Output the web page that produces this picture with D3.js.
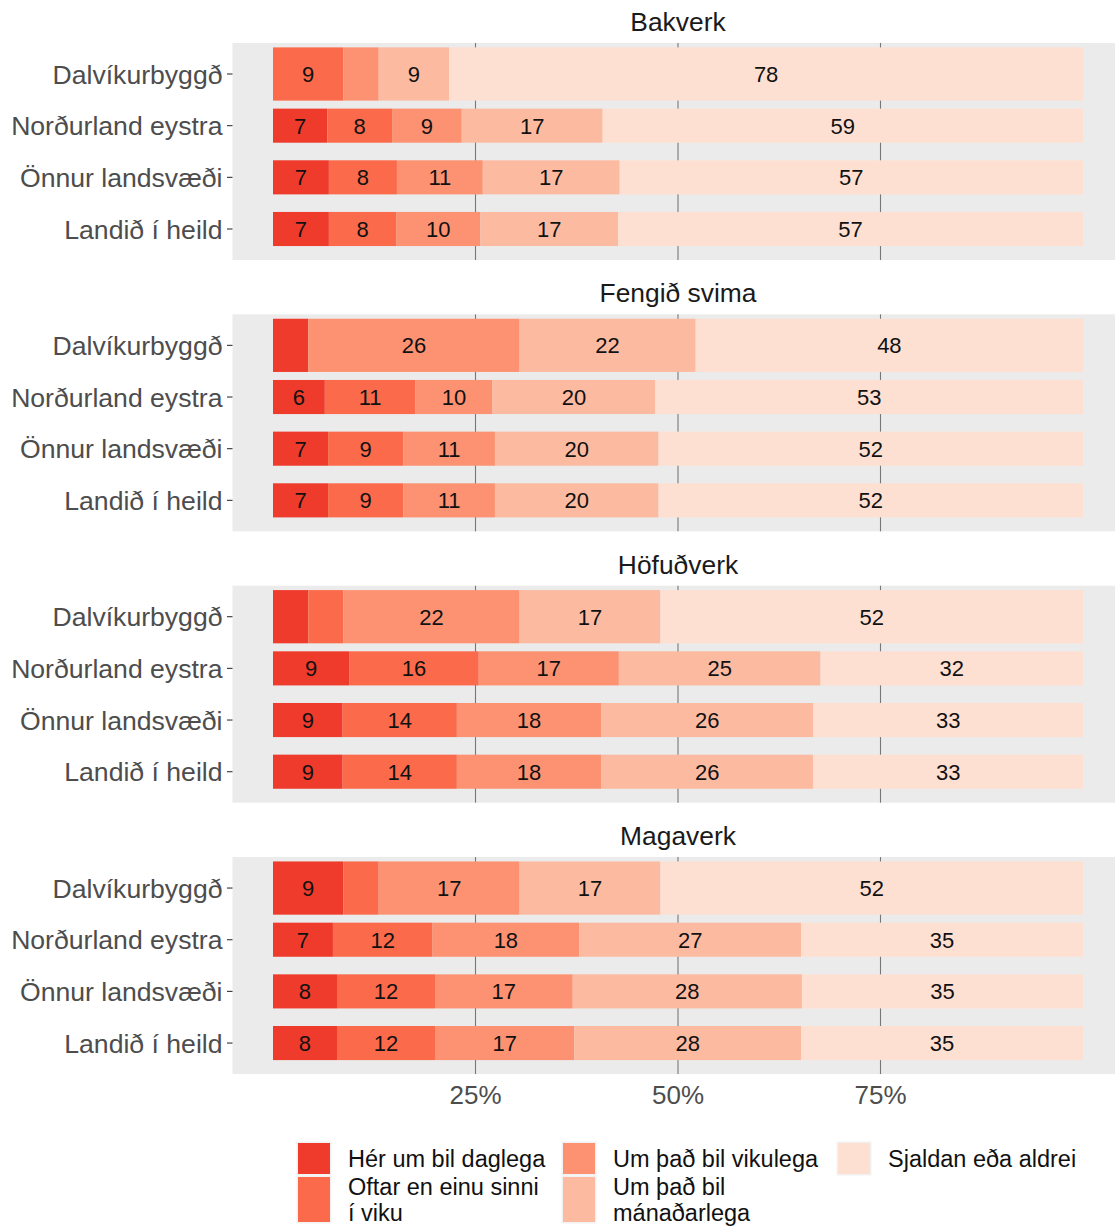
<!DOCTYPE html>
<html>
<head>
<meta charset="utf-8">
<script src="https://cdn.jsdelivr.net/npm/d3@7"></script>
<style>
  html, body { margin: 0; padding: 0; background: #fff; }
  svg { display: block; font-family: "Liberation Sans", Arial, sans-serif; }
</style>
</head>
<body>
<svg id="chart" width="1115" height="1228"></svg>
<script>
// ---------- data ----------
const panels = ["Bakverk", "Fengið svima", "Höfuðverk", "Magaverk"];
const categories = ["Dalvíkurbyggð", "Norðurland eystra", "Önnur landsvæði", "Landið í heild"];
const levels = ["Hér um bil daglega", "Oftar en einu sinni í viku", "Um það bil vikulega", "Um það bil mánaðarlega", "Sjaldan eða aldrei"];
const legendLabels = [["Hér um bil daglega"], ["Oftar en einu sinni", "í viku"], ["Um það bil vikulega"], ["Um það bil", "mánaðarlega"], ["Sjaldan eða aldrei"]];
const colors = ["#EF3B2C", "#FB6A4A", "#FC9272", "#FCBBA1", "#FEE0D2"];
const xTicks = [25, 50, 75];

// percentages per category, in order of levels
const bakverk = [
  [0, 8.7, 4.35, 8.7, 78.26],
  [6.7, 8.0, 8.6, 17.4, 59.3],
  [6.9, 8.4, 10.6, 16.9, 57.2],
  [6.9, 8.3, 10.4, 17.0, 57.4]
];
const fengidSvima = [
  [4.35, 0, 26.09, 21.74, 47.83],
  [6.4, 11.2, 9.5, 20.1, 52.8],
  [6.8, 9.3, 11.3, 20.2, 52.4],
  [6.8, 9.3, 11.3, 20.2, 52.4]
];
const hofudverk = [
  [4.35, 4.35, 21.74, 17.39, 52.17],
  [9.4, 16.0, 17.3, 24.9, 32.4],
  [8.6, 14.1, 17.8, 26.2, 33.3],
  [8.6, 14.1, 17.8, 26.2, 33.3]
];
const magaverk = [
  [8.7, 4.35, 17.39, 17.39, 52.17],
  [7.4, 12.3, 18.1, 27.4, 34.8],
  [7.9, 12.1, 17.0, 28.3, 34.7],
  [7.9, 12.1, 17.2, 28.0, 34.8]
];
const panelValues = [bakverk, fengidSvima, hofudverk, magaverk];

// ---------- layout ----------
const svg = d3.select("#chart");
const x = d3.scaleLinear().domain([0, 100]).range([273, 1083]);
const panelLeft = x(-5), panelRight = x(105);
const panelH = 217, panelPitch = 271.35, firstTop = 43;
const color = d3.scaleOrdinal().domain(levels).range(colors);
const labelThreshold = 5;

panels.forEach((p, pi) => {
  const top = firstTop + pi * panelPitch;
  const y = d3.scalePoint().domain(categories).range([top, top + panelH]).padding(0.6);
  const step = y.step();
  const g = svg.append("g");

  // panel background
  g.append("rect").attr("x", panelLeft).attr("y", top)
    .attr("width", panelRight - panelLeft).attr("height", panelH)
    .attr("fill", "#EBEBEB");

  // gridlines
  g.selectAll("line.grid").data(xTicks).join("line")
    .attr("x1", d => x(d)).attr("x2", d => x(d))
    .attr("y1", top).attr("y2", top + panelH)
    .attr("stroke", "#777").attr("stroke-width", 1.1);

  // strip title
  g.append("text").attr("x", x(50)).attr("y", top - 12)
    .attr("text-anchor", "middle").attr("font-size", 26.4)
    .attr("fill", "#1A1A1A").text(p);

  // y axis labels + ticks
  categories.forEach((c, ci) => {
    const cy = y(c);
    g.append("line").attr("x1", panelLeft - 5.5).attr("x2", panelLeft)
      .attr("y1", cy).attr("y2", cy).attr("stroke", "#333").attr("stroke-width", 1.1);
    g.append("text").attr("x", panelLeft - 10).attr("y", cy).attr("dy", "0.36em")
      .attr("text-anchor", "end").attr("font-size", 26.6).attr("fill", "#4D4D4D").text(c);
  });

  // bars
  panelValues[pi].forEach((vals, ci) => {
    const cy = y(categories[ci]);
    const h = (ci === 0 ? 1.03 : 0.66) * step;
    const stacked = d3.stack().keys(d3.range(levels.length))([vals])
      .map(s => ({ i: s.key, x0: s[0][0], x1: s[0][1], v: vals[s.key] }));
    g.selectAll(null).data(stacked.filter(d => d.v > 0)).join("rect")
      .attr("x", d => x(d.x0)).attr("width", d => x(d.x1) - x(d.x0))
      .attr("y", cy - h / 2).attr("height", h)
      .attr("fill", d => colors[d.i]);
    g.selectAll(null).data(stacked.filter(d => d.v >= labelThreshold)).join("text")
      .attr("x", d => x((d.x0 + d.x1) / 2)).attr("y", cy).attr("dy", "0.36em")
      .attr("text-anchor", "middle").attr("font-size", 22).attr("fill", "#111")
      .text(d => Math.round(d.v));
  });
});

// x axis labels
const lastBottom = firstTop + 3 * panelPitch + panelH;
svg.selectAll("text.xl").data(xTicks).join("text")
  .attr("x", d => x(d)).attr("y", lastBottom + 30)
  .attr("text-anchor", "middle").attr("font-size", 26).attr("fill", "#4D4D4D")
  .text(d => d + "%");

// legend
const legCols = [298, 563, 838];
const keyW = 32;
const rowTops = [1143, 1177];
const rowHs = [31, 45];
levels.forEach((lv, i) => {
  const col = Math.floor(i / 2), row = i % 2;
  const kx = legCols[col], ky = rowTops[row], kh = rowHs[row];
  svg.append("rect").attr("x", kx - 1.5).attr("y", ky - 1.5)
    .attr("width", keyW + 3).attr("height", kh + 3).attr("fill", "#F2F2F2");
  svg.append("rect").attr("x", kx).attr("y", ky).attr("width", keyW).attr("height", kh)
    .attr("fill", color(lv));
  const t = svg.append("text").attr("x", kx + 50).attr("y", row === 0 ? 1167 : 1195)
    .attr("font-size", 23.5).attr("fill", "#111");
  legendLabels[i].forEach((ln, li) => {
    t.append("tspan").attr("x", kx + 50).attr("dy", li === 0 ? 0 : 26.3).text(ln);
  });
});
</script>
</body>
</html>
